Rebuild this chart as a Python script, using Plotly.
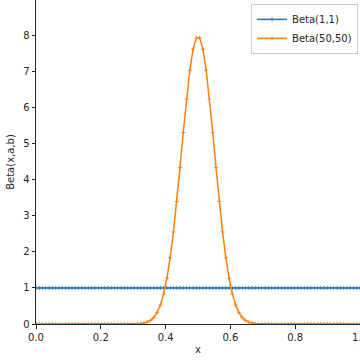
import plotly.graph_objects as go

# x positions (100 evenly spaced samples from 0 to 1)
x_vals = [round(i / 99, 4) for i in range(100)]

# Beta(1,1) values: flat at 1
beta_1_1 = [1.0] * 100

# Beta(50,50) values (right half, starting just right of 0.5)
right_half = [7.920, 7.610, 7.024, 6.226, 5.301, 4.331, 3.394, 2.551, 1.837, 1.266,
              0.834, 0.525, 0.315, 0.180, 0.098, 0.051, 0.025, 0.0115, 0.005, 0.002,
              0.0008, 0.0003, 0.0001, 0.0, 0.0, 0.0, 0.0, 0.0, 0.0, 0.0,
              0.0, 0.0, 0.0, 0.0, 0.0, 0.0, 0.0, 0.0, 0.0, 0.0,
              0.0, 0.0, 0.0, 0.0, 0.0, 0.0, 0.0, 0.0, 0.0, 0.0]
beta_50_50 = right_half[::-1] + right_half

series_names = ["Beta(1,1)", "Beta(50,50)"]
colors = ["#1f77b4", "#ff7f0e"]

fig = go.Figure()
for name, ys, c in zip(series_names, [beta_1_1, beta_50_50], colors):
    fig.add_trace(go.Scatter(
        x=x_vals, y=ys, name=name, mode="lines+markers",
        line=dict(color=c, width=1.5),
        marker=dict(symbol="cross-thin", size=3, line=dict(color=c, width=0.8)),
    ))

font = dict(family="DejaVu Sans", size=10, color="#262626")
fig.update_layout(
    width=360, height=360,
    margin=dict(l=36, r=0, t=0, b=36),
    paper_bgcolor="white", plot_bgcolor="white",
    font=font,
    showlegend=True,
    hovermode=False,
    legend=dict(x=0.994, xanchor="right", y=0.988, yanchor="top",
                bordercolor="#cccccc", borderwidth=1, bgcolor="rgba(255,255,255,0.8)",
                font=dict(family="DejaVu Sans", size=10, color="#262626"),
                tracegroupgap=0, itemwidth=30),
)
fig.update_xaxes(
    range=[0, 1], tickvals=[0, 0.2, 0.4, 0.6, 0.8, 1.0],
    ticktext=["0.0", "0.2", "0.4", "0.6", "0.8", "1.0"],
    showgrid=False, zeroline=False, showline=True, linecolor="#262626", linewidth=1,
    ticks="outside", ticklen=3.5, tickcolor="#262626", automargin=False,
    ticklabeloverflow="allow",
    title=dict(text="x", standoff=4, font=font),
)
fig.update_yaxes(
    range=[0, 8.97], tickvals=list(range(9)),
    showgrid=False, zeroline=False, showline=True, linecolor="#262626", linewidth=1,
    ticks="outside", ticklen=3.5, tickcolor="#262626", automargin=False,
    title=dict(text="Beta(x,a,b)", standoff=6, font=font),
)

fig.write_html("out.html", config={"displayModeBar": False},
               post_script="document.body.style.margin='0';")
